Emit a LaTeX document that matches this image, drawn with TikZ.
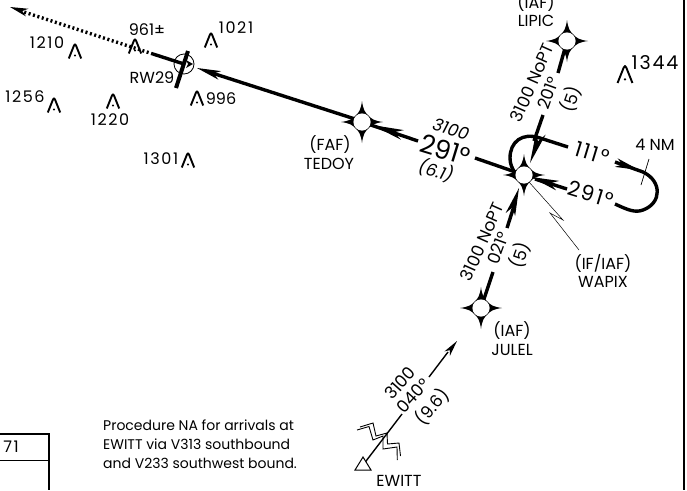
\documentclass[tikz,border=0pt]{standalone}
\usepackage{fontspec}
\setmainfont{Poppins}
\newfontfamily\spc[LetterSpace=10]{Poppins}
\usetikzlibrary{arrows.meta}
\tikzset{
  x=1pt,y=-1pt,
  course/.style={line width=3.4pt,draw=black},
  thin course/.style={line width=1.4pt,draw=black},
  txt/.style={inner sep=0pt,font=\fontsize{16}{18}\selectfont,align=center},
  alt/.style={inner sep=0pt,font=\fontsize{17}{19}\selectfont},
  ialt/.style={inner sep=0pt,font=\fontsize{17}{19}\selectfont\itshape},
  big/.style={inner sep=0pt,font=\fontsize{26}{28}\selectfont},
  hold/.style={inner sep=0pt,font=\spc\fontsize{21}{24}\selectfont},
  elev/.style={inner sep=0pt,font=\spc\fontsize{16}{18}\selectfont},
  elevp/.style={inner sep=0pt,font=\fontsize{16}{18}\selectfont},
  obst/.pic={
    \draw[line width=1.9pt,line join=round] (-6.2,7.5) -- (-1,-5.5) .. controls (-.5,-7) and (.5,-7) .. (1,-5.5) -- (6.2,7.5);
    \fill (0,4.5) circle (1.1pt);
  }
}
\newcommand{\fixstar}[1]{%
  \begin{scope}[shift={(#1)}]
  \fill (0,-21) .. controls (1,-13) and (3,-9) .. (6.5,-6.5)
     .. controls (9,-3) and (13,-1) .. (21,0)
     .. controls (13,1) and (9,3) .. (6.5,6.5)
     .. controls (3,9) and (1,13) .. (0,21)
     .. controls (-1,13) and (-3,9) .. (-6.5,6.5)
     .. controls (-9,3) and (-13,1) .. (-21,0)
     .. controls (-13,-1) and (-9,-3) .. (-6.5,-6.5)
     .. controls (-3,-9) and (-1,-13) .. (0,-21) -- cycle;
  \fill[white] (0,0) circle (8.6);
  \end{scope}
}
% tip position, direction, length, half width
\newcommand{\barbtip}[4]{%
  \fill[shift={(#1)},rotate=#2] (0,0) -- (-#3,#4) -- (-#3*0.72,0) -- (-#3,-#4) -- cycle;
}
\begin{document}
\begin{tikzpicture}
\useasboundingbox (0,0) rectangle (687,490);
\fill[white] (0,0) rectangle (687,490);
% fixes
\coordinate (lipic) at (567,41);
\coordinate (tedoy) at (362,122);
\coordinate (wapix) at (524,175);
\coordinate (julel) at (481,308);
\coordinate (rw) at (184,64);
\coordinate (miss) at (153,54);
\coordinate (missend) at (10,7);
% frame
\draw[line width=1.6pt] (684,0) -- (684,490);
\draw[line width=1.6pt] (0,434) -- (49,434) -- (49,490);
\draw[line width=.8pt] (0,460) -- (49,460);
% final and missed approach
\draw[line width=3.4pt,dash pattern=on 2pt off 2.6pt] (miss) -- (24,12);
\barbtip{10,7}{162}{18}{4}
\draw[course] (miss) -- (rw);
\draw[line width=4pt] (188,51) -- (176,88);
\coordinate (a1) at (355,119);
\draw[course] (a1) -- (212,73);
\barbtip{197,68}{162}{24}{4.5}
\coordinate (b1) at (418,141);
\draw[course] (tedoy) -- (b1);
\barbtip{372,125}{162}{32}{5}
\coordinate (c1) at (475,158);
\draw[course] (c1) -- (wapix);
% LIPIC
\coordinate (d1) at (558,73);
\coordinate (d2) at (543,115);
\draw[course] (lipic) -- (d1);
\draw[course] (d2) -- (534,141);
\barbtip{530,163}{250}{32}{5}
% JULEL
\coordinate (e1) at (507,228);
\coordinate (e2) at (493,272);
\draw[course] (e1) -- (515,203);
\barbtip{519,188}{72}{28}{5}
\draw[course] (e2) -- (julel);
% EWITT
\coordinate (ew) at (363,465);
\coordinate (f1) at (402,414);
\coordinate (f2) at (429,377);
\coordinate (f3) at (457,341);
\draw[thin course] (ew) -- (f1);
\draw[thin course] (f2) -- (448,352);
\barbtip{457,341}{52}{16}{3.5}
\draw[line width=.9pt] (357,430) -- (369,426.5) -- (373,440) -- (383,436) -- (383,449) -- (397,447) -- (397.3,460);
\draw[line width=.9pt] (360,427) -- (373,423) -- (376,436) -- (387,433) -- (387.5,444) -- (399,443) -- (400.5,456);
\draw[line width=1pt,fill=white] (363,457) -- (355,470) -- (371,470) -- cycle;
% holding pattern
\draw[course] (568,147) -- (540,138) .. controls (522,132) and (510,142) .. (510,158) .. controls (510,164) and (512,168) .. (515,173);
\draw[course] (567,189) -- (545,182);
\draw[course] (550,184) -- (535,179);
\barbtip{531,177}{162}{28}{5}
\draw[course] (615,162) -- (643,172) .. controls (662,181) and (662,203) .. (643,210) .. controls (635,213) and (628,210) .. (615,204);
\barbtip{639,170}{-18}{24}{4.5}
\draw[line width=.7pt] (649,159) -- (641,185);
% fix symbols
\fixstar{lipic}
\fixstar{tedoy}
\fixstar{wapix}
\fixstar{julel}
% navaid
\draw[line width=.8pt] (rw) circle (10);
\fill (193,64) -- (186,60) -- (188,64) -- (186,68) -- cycle;
% lightning
\draw[line width=.5pt] (529,182) -- (563,220) -- (550,213) -- (579,250);
% obstacles
\pic at (75,51) {obst};
\pic at (135,46) {obst};
\pic at (211,40) {obst};
\pic at (197,98) {obst};
\pic at (113,101) {obst};
\pic at (54,105) {obst};
\pic at (188,160) {obst};
\pic[scale=1.2] at (625,74) {obst};
% labels
\node[elev] at (47,43) {1210};
\node[elevp] at (147,30) {961±};
\node[elev] at (236,28) {1021};
\node[elevp] at (152,78) {RW29};
\node[elevp] at (221,99) {996};
\node[elev] at (110,120) {1220};
\node[elev] at (25,97) {1256};
\node[elev] at (161,159) {1301};
\node[inner sep=0pt,font=\spc\fontsize{19}{22}\selectfont] at (655,63) {1344};
\node[txt] at (536,3) {(IAF)};
\node[txt] at (536,21) {LIPIC};
\node[txt] at (330,145) {(FAF)};
\node[txt] at (329,164) {TEDOY};
\node[txt] at (603,263) {(IF/IAF)};
\node[txt] at (603,282) {WAPIX};
\node[txt] at (512,331) {(IAF)};
\node[txt] at (512,350) {JULEL};
\node[txt] at (399,481) {EWITT};
\node[txt] at (655,145) {4 NM};
\node[elev] at (11,447) {71};
\node[ialt,rotate=-17] at (451,129) {3100};
\node[big,rotate=-17] at (445,150) {291°};
\node[ialt,rotate=-17] at (436,171) {(6.1)};
\node[alt,rotate=66] at (532,83) {3100 NoPT};
\node[alt,rotate=70] at (548,93) {201°};
\node[alt,rotate=70] at (571,99) {(5)};
\node[alt,rotate=66] at (482,242) {3100 NoPT};
\node[alt,rotate=70] at (498,248) {021°};
\node[alt,rotate=70] at (520,255) {(5)};
\node[hold,rotate=-17] at (592,153) {111°};
\node[hold,rotate=-17] at (591,194) {291°};
\node[alt,rotate=48] at (400,383) {3100};
\node[alt,rotate=48] at (413,396) {040°};
\node[alt,rotate=48] at (432,407) {(9.6)};
\node[anchor=west,inner sep=0pt,font=\fontsize{14}{19}\selectfont,align=left] at (103,444) {Procedure NA for arrivals at\\EWITT via V313 southbound\\and V233 southwest bound.};
\end{tikzpicture}
\end{document}
